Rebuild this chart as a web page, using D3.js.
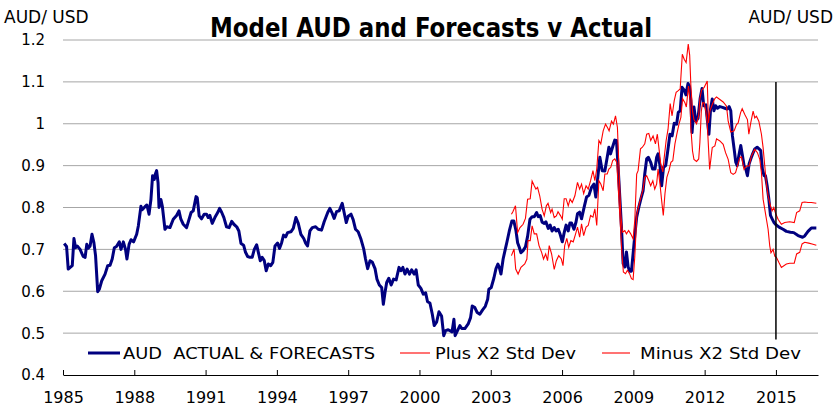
<!DOCTYPE html>
<html>
<head>
<meta charset="utf-8">
<script src="https://cdn.jsdelivr.net/npm/d3@7"></script>
<style>
  html, body { margin: 0; padding: 0; background: #fff; }
  svg { display: block; }
</style>
</head>
<body>
<svg id="chart" width="837" height="411"></svg>
<script>
// AUD/USD actual (to end-2014) and model forecasts thereafter, as [year, rate]
const actualAUD = [
  [1985.05,0.714],[1985.15,0.707],[1985.22,0.653],[1985.39,0.661],[1985.46,0.726],[1985.53,0.704],
  [1985.60,0.708],[1985.72,0.700],[1985.85,0.683],[1985.93,0.681],[1986.00,0.712],[1986.07,0.703],
  [1986.14,0.708],[1986.22,0.736],[1986.30,0.716],[1986.37,0.685],[1986.46,0.599],[1986.53,0.605],
  [1986.63,0.625],[1986.77,0.641],[1986.88,0.661],[1986.98,0.662],[1987.07,0.677],[1987.16,0.704],
  [1987.25,0.707],[1987.37,0.718],[1987.44,0.700],[1987.54,0.718],[1987.63,0.700],[1987.69,0.677],
  [1987.78,0.712],[1987.86,0.723],[1987.97,0.718],[1988.10,0.736],[1988.17,0.756],[1988.28,0.803],
  [1988.34,0.795],[1988.45,0.802],[1988.53,0.806],[1988.62,0.784],[1988.70,0.819],[1988.77,0.876],
  [1988.84,0.867],[1988.88,0.879],[1988.94,0.888],[1989.00,0.859],[1989.04,0.800],[1989.12,0.819],
  [1989.18,0.803],[1989.29,0.748],[1989.37,0.754],[1989.50,0.752],[1989.64,0.772],[1989.78,0.781],
  [1989.88,0.792],[1989.96,0.772],[1990.06,0.760],[1990.20,0.752],[1990.39,0.788],[1990.48,0.792],
  [1990.60,0.826],[1990.65,0.823],[1990.73,0.780],[1990.83,0.773],[1990.94,0.784],[1991.04,0.784],
  [1991.11,0.776],[1991.18,0.781],[1991.28,0.762],[1991.39,0.776],[1991.51,0.788],[1991.59,0.798],
  [1991.68,0.788],[1991.77,0.776],[1991.88,0.754],[1991.99,0.752],[1992.10,0.767],[1992.19,0.760],
  [1992.31,0.754],[1992.40,0.744],[1992.49,0.714],[1992.60,0.710],[1992.68,0.693],[1992.77,0.683],
  [1992.87,0.681],[1992.96,0.681],[1993.05,0.700],[1993.15,0.711],[1993.22,0.693],[1993.30,0.673],
  [1993.38,0.681],[1993.47,0.673],[1993.55,0.649],[1993.64,0.665],[1993.74,0.661],[1993.83,0.669],
  [1993.92,0.708],[1994.03,0.715],[1994.11,0.702],[1994.20,0.716],[1994.28,0.734],[1994.37,0.730],
  [1994.45,0.740],[1994.59,0.742],[1994.69,0.750],[1994.80,0.776],[1994.90,0.762],[1995.01,0.736],
  [1995.13,0.726],[1995.21,0.715],[1995.29,0.708],[1995.39,0.744],[1995.49,0.752],[1995.63,0.754],
  [1995.74,0.748],[1995.88,0.746],[1995.99,0.766],[1996.14,0.788],[1996.23,0.798],[1996.33,0.786],
  [1996.41,0.774],[1996.51,0.790],[1996.62,0.792],[1996.75,0.810],[1996.83,0.788],[1996.92,0.764],
  [1997.00,0.779],[1997.12,0.784],[1997.21,0.771],[1997.31,0.748],[1997.42,0.742],[1997.54,0.724],
  [1997.65,0.702],[1997.73,0.677],[1997.82,0.654],[1997.92,0.673],[1998.01,0.670],[1998.13,0.654],
  [1998.21,0.629],[1998.31,0.615],[1998.41,0.609],[1998.48,0.569],[1998.55,0.597],[1998.62,0.621],
  [1998.71,0.631],[1998.81,0.615],[1998.91,0.629],[1999.02,0.627],[1999.14,0.657],[1999.22,0.649],
  [1999.30,0.657],[1999.39,0.641],[1999.48,0.653],[1999.58,0.641],[1999.67,0.651],[1999.78,0.641],
  [1999.86,0.651],[1999.95,0.615],[2000.06,0.607],[2000.16,0.593],[2000.26,0.596],[2000.34,0.575],
  [2000.44,0.572],[2000.54,0.545],[2000.62,0.518],[2000.72,0.526],[2000.82,0.551],[2000.93,0.541],
  [2001.02,0.494],[2001.10,0.506],[2001.21,0.508],[2001.37,0.503],[2001.45,0.533],[2001.50,0.494],
  [2001.59,0.505],[2001.70,0.518],[2001.78,0.511],[2001.91,0.511],[2002.05,0.522],[2002.15,0.537],
  [2002.22,0.565],[2002.33,0.561],[2002.43,0.549],[2002.54,0.545],[2002.65,0.555],[2002.77,0.564],
  [2002.87,0.581],[2002.92,0.605],[2003.02,0.609],[2003.13,0.631],[2003.22,0.654],[2003.30,0.665],
  [2003.36,0.657],[2003.43,0.641],[2003.52,0.677],[2003.61,0.700],[2003.69,0.720],[2003.78,0.744],
  [2003.89,0.768],[2003.97,0.768],[2004.06,0.745],[2004.13,0.716],[2004.20,0.705],[2004.27,0.692],
  [2004.36,0.697],[2004.46,0.706],[2004.55,0.731],[2004.65,0.772],[2004.74,0.778],[2004.83,0.778],
  [2004.93,0.788],[2005.00,0.778],[2005.08,0.781],[2005.16,0.765],[2005.25,0.762],[2005.32,0.766],
  [2005.42,0.750],[2005.50,0.758],[2005.58,0.744],[2005.67,0.752],[2005.75,0.744],[2005.84,0.748],
  [2005.92,0.736],[2006.01,0.718],[2006.09,0.740],[2006.17,0.758],[2006.26,0.744],[2006.33,0.763],
  [2006.40,0.763],[2006.50,0.748],[2006.59,0.766],[2006.65,0.785],[2006.74,0.789],[2006.82,0.773],
  [2006.93,0.801],[2007.03,0.825],[2007.13,0.829],[2007.24,0.848],[2007.34,0.856],[2007.42,0.825],
  [2007.49,0.864],[2007.59,0.920],[2007.69,0.888],[2007.80,0.887],[2007.90,0.920],[2007.97,0.944],
  [2008.04,0.928],[2008.13,0.945],[2008.22,0.961],[2008.29,0.960],[2008.36,0.896],[2008.43,0.825],
  [2008.50,0.753],[2008.57,0.666],[2008.64,0.658],[2008.71,0.694],[2008.78,0.658],[2008.85,0.648],
  [2008.92,0.648],[2008.99,0.690],[2009.06,0.733],[2009.14,0.777],[2009.23,0.801],[2009.32,0.821],
  [2009.41,0.840],[2009.48,0.880],[2009.56,0.916],[2009.63,0.920],[2009.73,0.908],[2009.81,0.892],
  [2009.91,0.892],[2009.98,0.920],[2010.04,0.928],[2010.12,0.900],[2010.19,0.852],[2010.27,0.896],
  [2010.36,0.900],[2010.44,0.932],[2010.54,0.975],[2010.63,0.971],[2010.72,1.001],[2010.82,0.999],
  [2010.89,1.027],[2010.97,1.031],[2011.05,1.087],[2011.14,1.080],[2011.21,1.069],[2011.30,1.096],
  [2011.36,1.090],[2011.42,1.055],[2011.47,0.979],[2011.55,1.040],[2011.63,1.006],[2011.72,1.013],
  [2011.81,1.060],[2011.89,1.084],[2011.96,1.043],[2012.05,1.045],[2012.11,1.011],[2012.18,0.975],
  [2012.25,1.035],[2012.32,1.059],[2012.39,1.031],[2012.46,1.043],[2012.54,1.037],[2012.64,1.041],
  [2012.75,1.039],[2012.85,1.037],[2012.95,1.035],[2013.03,1.041],[2013.10,1.031],[2013.17,0.971],
  [2013.24,0.940],[2013.31,0.908],[2013.37,0.900],[2013.44,0.924],[2013.52,0.948],[2013.59,0.924],
  [2013.66,0.900],[2013.73,0.892],[2013.80,0.876],[2013.87,0.904],[2013.94,0.916],[2014.02,0.928],
  [2014.11,0.940],[2014.21,0.944],[2014.29,0.940],[2014.36,0.936],[2014.43,0.892],[2014.50,0.876],
  [2014.56,0.876],[2014.63,0.852],[2014.70,0.821],[2014.77,0.781],[2014.84,0.773],[2014.91,0.765],
  [2015.00,0.759],[2015.13,0.753],[2015.30,0.748],[2015.44,0.743],[2015.61,0.741],[2015.75,0.740],
  [2015.93,0.733],[2016.12,0.729],[2016.21,0.732],[2016.35,0.743],[2016.49,0.751],[2016.70,0.751]
];

// Model + 2 standard deviations
const plus2SD = [
  [2003.87,0.784],[2003.93,0.790],[2004.04,0.804],[2004.13,0.740],[2004.23,0.752],[2004.36,0.760],
  [2004.46,0.774],[2004.55,0.820],[2004.66,0.821],[2004.74,0.863],[2004.83,0.852],[2004.90,0.844],
  [2004.97,0.848],[2005.06,0.828],[2005.16,0.796],[2005.25,0.780],[2005.34,0.804],[2005.41,0.810],
  [2005.52,0.788],[2005.58,0.796],[2005.67,0.776],[2005.76,0.780],[2005.83,0.790],[2005.94,0.780],
  [2006.01,0.772],[2006.09,0.821],[2006.17,0.821],[2006.26,0.804],[2006.34,0.820],[2006.43,0.812],
  [2006.54,0.828],[2006.65,0.860],[2006.74,0.844],[2006.82,0.856],[2006.91,0.833],[2007.01,0.852],
  [2007.10,0.844],[2007.20,0.864],[2007.30,0.888],[2007.38,0.864],[2007.46,0.892],[2007.55,0.960],
  [2007.63,0.952],[2007.73,0.983],[2007.83,0.999],[2007.91,0.991],[2007.98,0.983],[2008.08,1.006],
  [2008.16,0.999],[2008.25,1.019],[2008.33,0.991],[2008.40,0.888],[2008.47,0.785],[2008.54,0.741],
  [2008.64,0.745],[2008.71,0.737],[2008.80,0.745],[2008.89,0.737],[2008.99,0.725],[2009.06,0.769],
  [2009.14,0.880],[2009.20,0.888],[2009.30,0.940],[2009.38,0.944],[2009.48,0.952],[2009.56,0.975],
  [2009.65,0.977],[2009.73,0.960],[2009.83,0.971],[2009.93,0.952],[2010.01,0.975],[2010.08,0.940],
  [2010.15,0.905],[2010.24,0.885],[2010.29,0.915],[2010.38,0.960],[2010.46,0.987],[2010.55,1.048],
  [2010.63,1.019],[2010.72,1.055],[2010.80,1.075],[2010.89,1.079],[2010.97,1.083],[2011.06,1.166],
  [2011.14,1.154],[2011.22,1.146],[2011.31,1.190],[2011.37,1.164],[2011.42,1.092],[2011.49,1.030],
  [2011.55,1.010],[2011.66,1.000],[2011.75,1.020],[2011.80,1.060],[2011.87,1.080],[2011.98,1.087],
  [2012.05,1.095],[2012.11,1.102],[2012.16,1.002],[2012.22,1.030],[2012.32,1.046],[2012.43,1.060],
  [2012.50,1.064],[2012.64,1.058],[2012.78,1.052],[2012.92,1.042],[2012.99,1.006],[2013.10,0.980],
  [2013.24,0.983],[2013.34,0.998],[2013.41,1.002],[2013.51,1.026],[2013.58,1.036],[2013.69,1.022],
  [2013.80,1.010],[2013.86,0.975],[2013.94,1.002],[2014.04,1.030],[2014.11,1.014],[2014.18,1.018],
  [2014.28,1.006],[2014.39,0.975],[2014.46,0.943],[2014.53,0.899],[2014.60,0.856],[2014.67,0.828],
  [2014.77,0.804],[2014.84,0.792],[2014.91,0.800],[2014.98,0.787],[2015.09,0.772],[2015.23,0.760],
  [2015.37,0.764],[2015.58,0.766],[2015.77,0.764],[2015.87,0.788],[2016.00,0.792],[2016.10,0.812],
  [2016.21,0.813],[2016.35,0.812],[2016.49,0.812],[2016.70,0.810]
];

// Model - 2 standard deviations
const minus2SD = [
  [2003.87,0.685],[2003.98,0.701],[2004.05,0.653],[2004.15,0.641],[2004.27,0.657],[2004.43,0.665],
  [2004.52,0.677],[2004.57,0.721],[2004.66,0.721],[2004.74,0.756],[2004.83,0.737],[2004.93,0.737],
  [2005.03,0.709],[2005.14,0.693],[2005.22,0.677],[2005.31,0.689],[2005.39,0.673],[2005.46,0.709],
  [2005.56,0.689],[2005.67,0.652],[2005.76,0.673],[2005.86,0.685],[2005.97,0.677],[2006.04,0.661],
  [2006.11,0.709],[2006.20,0.726],[2006.28,0.705],[2006.37,0.721],[2006.47,0.718],[2006.57,0.737],
  [2006.65,0.753],[2006.74,0.729],[2006.82,0.761],[2006.91,0.733],[2007.01,0.753],[2007.10,0.757],
  [2007.20,0.781],[2007.30,0.777],[2007.38,0.797],[2007.46,0.757],[2007.55,0.864],[2007.63,0.856],
  [2007.73,0.840],[2007.80,0.880],[2007.90,0.880],[2007.97,0.892],[2008.05,0.896],[2008.13,0.912],
  [2008.22,0.916],[2008.30,0.908],[2008.37,0.840],[2008.44,0.773],[2008.51,0.698],[2008.58,0.646],
  [2008.67,0.642],[2008.75,0.650],[2008.84,0.642],[2008.92,0.630],[2008.99,0.628],[2009.06,0.682],
  [2009.15,0.785],[2009.25,0.809],[2009.32,0.825],[2009.41,0.844],[2009.48,0.872],[2009.56,0.876],
  [2009.65,0.864],[2009.73,0.852],[2009.82,0.864],[2009.90,0.844],[2009.98,0.856],[2010.04,0.892],
  [2010.12,0.856],[2010.19,0.817],[2010.26,0.781],[2010.33,0.833],[2010.41,0.872],[2010.50,0.888],
  [2010.58,0.908],[2010.66,0.912],[2010.75,0.952],[2010.83,0.975],[2010.92,0.999],[2011.00,1.015],
  [2011.07,1.060],[2011.17,1.050],[2011.23,1.040],[2011.32,1.090],[2011.38,1.060],[2011.42,0.990],
  [2011.49,0.935],[2011.55,0.915],[2011.66,0.910],[2011.75,0.916],[2011.80,0.956],[2011.86,1.030],
  [2011.91,1.050],[2011.98,1.050],[2012.05,1.030],[2012.11,1.000],[2012.21,0.891],[2012.32,0.943],
  [2012.43,0.947],[2012.50,0.964],[2012.64,0.959],[2012.78,0.951],[2012.88,0.931],[2012.99,0.915],
  [2013.10,0.883],[2013.20,0.879],[2013.30,0.883],[2013.38,0.899],[2013.48,0.919],[2013.55,0.921],
  [2013.66,0.891],[2013.76,0.899],[2013.87,0.899],[2013.97,0.923],[2014.11,0.939],[2014.22,0.931],
  [2014.32,0.915],[2014.39,0.883],[2014.46,0.820],[2014.53,0.796],[2014.60,0.772],[2014.67,0.748],
  [2014.74,0.708],[2014.79,0.692],[2014.88,0.700],[2014.95,0.684],[2015.02,0.681],[2015.12,0.669],
  [2015.23,0.657],[2015.44,0.665],[2015.58,0.667],[2015.77,0.667],[2015.87,0.689],[2016.00,0.693],
  [2016.10,0.713],[2016.21,0.717],[2016.38,0.715],[2016.52,0.713],[2016.70,0.710]
];

const yearTicks = [1985, 1988, 1991, 1994, 1997, 2000, 2003, 2006, 2009, 2012, 2015];
const rateTicks = [0.4, 0.5, 0.6, 0.7, 0.8, 0.9, 1.0, 1.1, 1.2];
const forecastStart = 2015.0;      // boundary between actual and forecast
const markerRange = [0.485, 1.1];  // extent of the forecast divider line

const svg = d3.select("#chart");
const font = "'DejaVu Sans', Verdana, sans-serif";

const x = d3.scaleLinear().domain([1985, 2016.77]).range([63, 818]);
const y = d3.scaleLinear().domain([0.4, 1.2]).range([375, 40]);

// horizontal gridlines
svg.append("g")
  .selectAll("line")
  .data(rateTicks.filter(d => d > 0.4))
  .join("line")
  .attr("x1", x.range()[0]).attr("x2", x.range()[1])
  .attr("y1", d => y(d)).attr("y2", d => y(d))
  .attr("stroke", "#a6a6a6").attr("stroke-width", 1);

// y-axis labels (no axis line)
svg.append("g")
  .selectAll("text")
  .data(rateTicks)
  .join("text")
  .attr("x", 45).attr("y", d => y(d))
  .attr("dy", "0.36em")
  .attr("text-anchor", "end")
  .attr("font-family", font).attr("font-size", 15)
  .attr("fill", "#000")
  .text(d => d3.format("~g")(d));

// x axis at 0.4 with inward ticks
const xAxis = d3.axisBottom(x)
  .tickValues(yearTicks)
  .tickFormat(d3.format("d"))
  .tickSizeInner(-5).tickSizeOuter(0).tickPadding(17);
const gx = svg.append("g").attr("transform", `translate(0,${y(0.4)})`).call(xAxis);
gx.select(".domain").attr("stroke", "#000").attr("stroke-width", 1);
gx.selectAll(".tick line").attr("stroke", "#000");
gx.selectAll(".tick text").attr("font-family", font).attr("font-size", 16).attr("fill", "#000");

// series
const line = d3.line().x(d => x(d[0])).y(d => y(d[1]));
svg.append("path").datum(actualAUD)
  .attr("d", line).attr("fill", "none")
  .attr("stroke", "#00007f").attr("stroke-width", 3).attr("stroke-linejoin", "round");
svg.append("path").datum(plus2SD)
  .attr("d", line).attr("fill", "none")
  .attr("stroke", "#ff0000").attr("stroke-width", 1.1);
svg.append("path").datum(minus2SD)
  .attr("d", line).attr("fill", "none")
  .attr("stroke", "#ff0000").attr("stroke-width", 1.1);

// forecast divider
svg.append("line")
  .attr("x1", x(forecastStart)).attr("x2", x(forecastStart))
  .attr("y1", y(markerRange[1])).attr("y2", y(markerRange[0]))
  .attr("stroke", "#000").attr("stroke-width", 1.5);

// titles
svg.append("text")
  .attr("x", 431).attr("y", 37)
  .attr("text-anchor", "middle")
  .attr("font-family", "'Liberation Sans Narrow', 'DejaVu Sans Condensed', sans-serif")
  .attr("font-weight", "bold").attr("font-size", 27)
  .attr("textLength", 442).attr("lengthAdjust", "spacingAndGlyphs")
  .text("Model AUD and Forecasts v Actual");
svg.append("text")
  .attr("x", 4).attr("y", 23)
  .attr("font-family", font).attr("font-size", 17)
  .text("AUD/ USD");
svg.append("text")
  .attr("x", 833).attr("y", 23).attr("text-anchor", "end")
  .attr("font-family", font).attr("font-size", 17)
  .text("AUD/ USD");

// legend
const legendItems = [
  { label: "AUD  ACTUAL & FORECASTS", color: "#00007f", width: 3, x0: 88, x1: 120, tx: 123, len: 252 },
  { label: "Plus X2 Std Dev", color: "#ff0000", width: 1.1, x0: 400, x1: 430, tx: 435, len: 141 },
  { label: "Minus X2 Std Dev", color: "#ff0000", width: 1.1, x0: 602, x1: 630, tx: 640, len: 161 }
];
const lg = svg.append("g");
lg.selectAll("line").data(legendItems).join("line")
  .attr("x1", d => d.x0).attr("x2", d => d.x1)
  .attr("y1", 353).attr("y2", 353)
  .attr("stroke", d => d.color).attr("stroke-width", d => d.width);
lg.selectAll("text").data(legendItems).join("text")
  .attr("x", d => d.tx).attr("y", 353).attr("dy", "0.36em")
  .attr("font-family", font).attr("font-size", 16)
  .attr("textLength", d => d.len).attr("lengthAdjust", "spacingAndGlyphs")
  .style("white-space", "pre")
  .attr("xml:space", "preserve")
  .text(d => d.label);
</script>
</body>
</html>
